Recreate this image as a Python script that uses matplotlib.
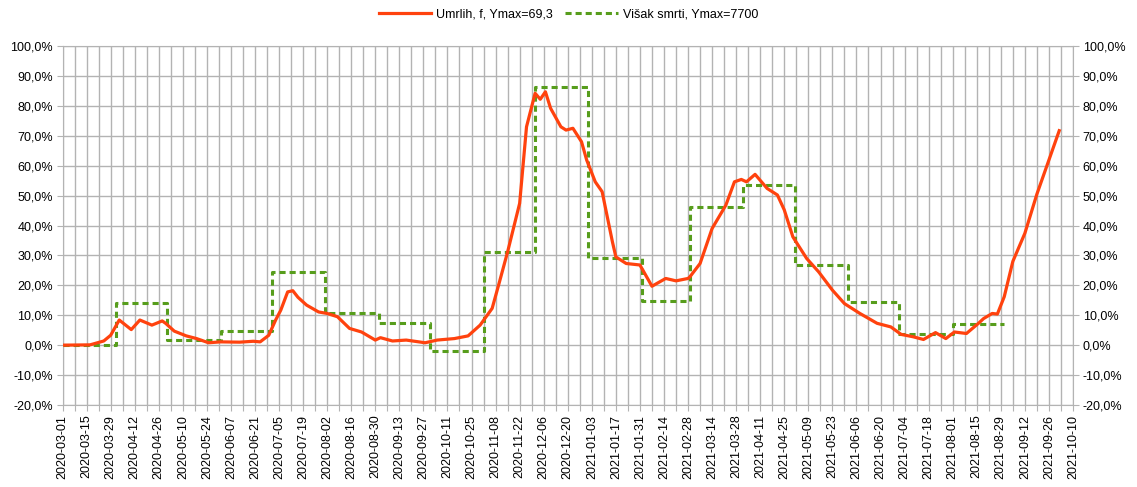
import matplotlib
matplotlib.use("Agg")
import matplotlib.pyplot as plt
import numpy as np
from matplotlib.ticker import FuncFormatter, MultipleLocator

plt.rcParams['font.family'] = ['Liberation Sans', 'DejaVu Sans']

# ---- data ----
umrlih_dates = [
    "2020-03-01", "2020-03-17", "2020-03-25", "2020-03-29", "2020-04-03", "2020-04-10",
    "2020-04-15", "2020-04-22", "2020-04-28", "2020-04-30", "2020-05-05", "2020-05-12",
    "2020-05-18", "2020-05-25", "2020-06-01", "2020-06-12", "2020-06-20", "2020-06-24",
    "2020-06-29", "2020-07-03", "2020-07-06", "2020-07-10", "2020-07-13", "2020-07-16",
    "2020-07-21", "2020-07-28", "2020-08-02", "2020-08-08", "2020-08-15", "2020-08-22",
    "2020-08-30", "2020-09-02", "2020-09-09", "2020-09-17", "2020-09-28", "2020-10-05",
    "2020-10-15", "2020-10-23", "2020-10-30", "2020-11-06", "2020-11-10", "2020-11-15",
    "2020-11-22", "2020-11-26", "2020-12-01", "2020-12-04", "2020-12-07", "2020-12-10",
    "2020-12-16", "2020-12-19", "2020-12-23", "2020-12-28", "2020-12-31", "2021-01-05",
    "2021-01-09", "2021-01-15", "2021-01-17", "2021-01-23", "2021-01-31", "2021-02-07",
    "2021-02-15", "2021-02-21", "2021-02-28", "2021-03-01", "2021-03-07", "2021-03-14",
    "2021-03-22", "2021-03-27", "2021-03-31", "2021-04-03", "2021-04-08", "2021-04-15",
    "2021-04-21", "2021-04-25", "2021-04-30", "2021-05-08", "2021-05-15", "2021-05-23",
    "2021-05-30", "2021-06-08", "2021-06-18", "2021-06-26", "2021-07-02", "2021-07-09",
    "2021-07-15", "2021-07-22", "2021-07-28", "2021-08-02", "2021-08-09", "2021-08-16",
    "2021-08-19", "2021-08-24", "2021-08-27", "2021-08-31", "2021-09-05", "2021-09-12",
    "2021-09-19", "2021-09-26", "2021-10-02",
]
umrlih_values = [
    0.0, 0.1, 1.4, 3.3, 8.4, 5.2,
    8.4, 6.7, 8.1, 7.3, 4.7, 3.1,
    2.2, 0.8, 1.1, 1.0, 1.3, 1.1,
    3.3, 8.4, 11.7, 17.8, 18.2, 16.0,
    13.4, 11.1, 10.6, 9.5, 5.6, 4.4,
    1.7, 2.5, 1.4, 1.7, 0.8, 1.7,
    2.2, 3.1, 6.7, 12.3, 20.6, 31.2,
    47.4, 73.0, 84.2, 82.2, 84.7, 79.2,
    73.0, 71.9, 72.5, 68.0, 61.9, 54.6,
    51.3, 34.5, 29.5, 27.3, 26.8, 19.7,
    22.3, 21.5, 22.3, 22.8, 27.3, 39.0,
    46.8, 54.6, 55.4, 54.6, 57.1, 52.4,
    50.2, 45.2, 36.2, 29.0, 24.5, 18.4,
    13.9, 10.6, 7.3, 6.1, 3.6, 2.8,
    1.9, 4.2, 2.2, 4.4, 3.9, 7.3,
    8.9, 10.6, 10.4, 16.2, 28.0, 37.4,
    50.5, 61.9, 71.7,
]

visak_months = [
    "2020-03-01", "2020-04-01", "2020-05-01", "2020-06-01", "2020-07-01", "2020-08-01",
    "2020-09-01", "2020-10-01", "2020-11-01", "2020-12-01", "2021-01-01", "2021-02-01",
    "2021-03-01", "2021-04-01", "2021-05-01", "2021-06-01", "2021-07-01", "2021-08-01",
]
visak_values = [
    0.0, 14.1, 1.7, 4.7, 24.5, 10.8,
    7.3, -2.0, 31.2, 86.4, 29.2, 14.8,
    46.1, 53.7, 26.7, 14.5, 3.6, 7.2,
]
visak_end = "2021-08-31"

label_umrlih = "Umrlih, f, Ymax=69,3"
label_visak = "Višak smrti, Ymax=7700"

# ---- plot ----
fig = plt.figure(figsize=(11.37, 4.87), dpi=100)
ax = fig.add_axes([0.055, 0.1684, 0.8887, 0.7371])

grid_c = "#b3b3b3"
x_start = np.datetime64("2020-03-01")
x_end = np.datetime64("2021-10-10")

ud = np.array(umrlih_dates, dtype="datetime64[D]")
ax.plot(ud, umrlih_values, color="#ff420e", lw=2.3, label=label_umrlih, zorder=4)

vd = np.array(visak_months + [visak_end], dtype="datetime64[D]")
vv = visak_values + [visak_values[-1]]
ax.plot(vd, vv, color="#579d1c", lw=2.2, ls=(0, (2.0, 1.3)), drawstyle="steps-post",
        label=label_visak, zorder=3)

ax.set_xlim(x_start, x_end)
ax.set_ylim(-20, 100)
ax.yaxis.set_major_locator(MultipleLocator(10))
ax.yaxis.set_major_formatter(FuncFormatter(lambda v, p: f"{v:.1f}%".replace(".", ",")))

ticks = np.arange(x_start, x_end + np.timedelta64(1, "D"), 7)
ax.set_xticks(ticks)
ax.set_xticklabels([str(t) if i % 2 == 0 else "" for i, t in enumerate(ticks)],
                   rotation=90, fontsize=9)

ax.grid(True, color=grid_c, lw=1.0)
ax.set_axisbelow(True)
for s in ax.spines.values():
    s.set_color(grid_c)
ax.tick_params(axis="both", color=grid_c, length=4, labelsize=9, labelcolor="#000000")
ax.tick_params(axis="y", right=True, labelright=True, pad=3)
ax.tick_params(axis="x", pad=3)

fig.legend(loc="upper center", bbox_to_anchor=(0.5, 1.005), ncol=2, frameon=False,
           fontsize=9, handlelength=4.2, columnspacing=1.0, handletextpad=0.4)

fig.savefig("out.png", dpi=100)
